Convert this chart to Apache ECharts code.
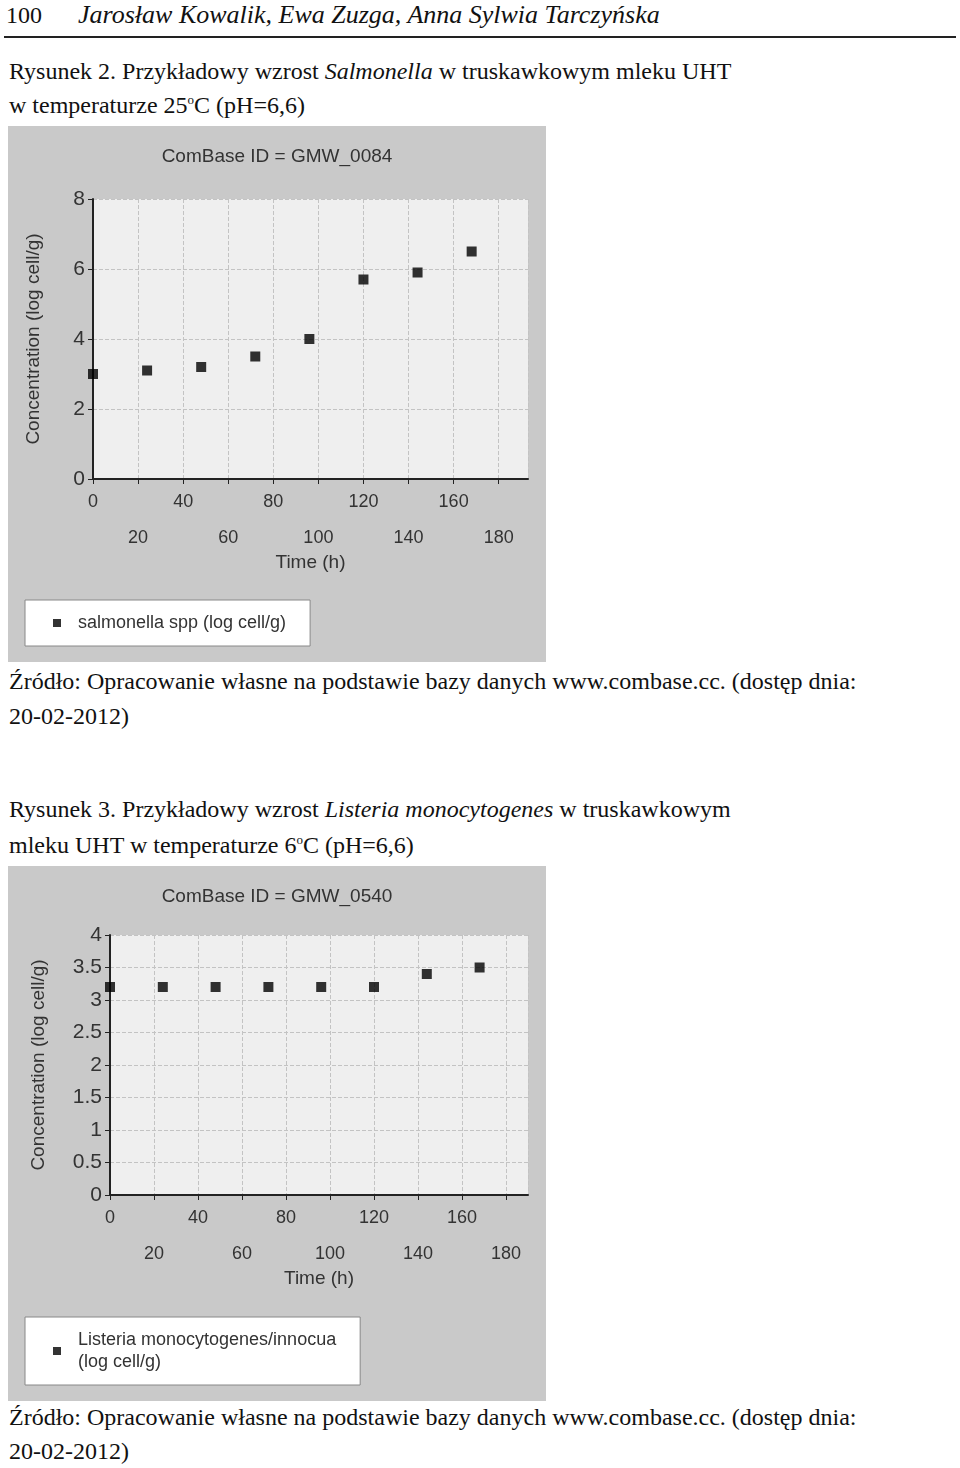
<!DOCTYPE html>
<html><head><meta charset="utf-8">
<script src="https://cdn.jsdelivr.net/npm/echarts@6/dist/echarts.min.js"></script>
<style>
body{margin:0;width:960px;height:1468px;background:#fff;position:relative;font-family:"Liberation Serif",serif;color:#111;}
.t{position:absolute;left:9px;font-size:24px;white-space:nowrap;}
.c{position:absolute;left:8px;width:538px;background:#c9c9c9;}
</style></head><body>
<div class="t" style="top:0;left:6px;font-size:24px">100 <i style="margin-left:30px;font-size:26px">Jarosław Kowalik, Ewa Zuzga, Anna Sylwia Tarczyńska</i></div>
<div style="position:absolute;left:4px;top:36px;width:952px;border-top:2px solid #222"></div>
<div class="t" style="top:58px">Rysunek 2. Przykładowy wzrost <i>Salmonella</i> w truskawkowym mleku UHT</div>
<div class="t" style="top:92px">w temperaturze 25<sup style="font-size:13px">o</sup>C (pH=6,6)</div>
<div id="c1" class="c" style="top:126px;height:536px"></div>
<div class="t" style="top:668px">Źródło: Opracowanie własne na podstawie bazy danych www.combase.cc. (dostęp dnia:</div>
<div class="t" style="top:703px">20-02-2012)</div>
<div class="t" style="top:796px">Rysunek 3. Przykładowy wzrost <i>Listeria monocytogenes</i> w truskawkowym</div>
<div class="t" style="top:832px">mleku UHT w temperaturze 6<sup style="font-size:13px">o</sup>C (pH=6,6)</div>
<div id="c2" class="c" style="top:866px;height:535px"></div>
<div class="t" style="top:1404px">Źródło: Opracowanie własne na podstawie bazy danych www.combase.cc. (dostęp dnia:</div>
<div class="t" style="top:1438px">20-02-2012)</div>
<script>
const timeSalmonella = [0, 24, 48, 72, 96, 120, 144, 168];
const concSalmonella = [3.0, 3.1, 3.2, 3.5, 4.0, 5.7, 5.9, 6.5];
const timeListeria = [0, 24, 48, 72, 96, 120, 144, 168];
const concListeria = [3.2, 3.2, 3.2, 3.2, 3.2, 3.2, 3.4, 3.5];

function makeOption(title, xs, ys, name, yMax, yStep, g, legTop) {
  const font = 'Liberation Sans';
  return {
    backgroundColor: '#c9c9c9',
    title: {text: title, left: 'center', top: 16, textStyle: {fontFamily: font, fontSize: 19, fontWeight: 'normal', color: '#333'}},
    grid: Object.assign({show: true, backgroundColor: '#efefef', borderWidth: 0}, g),
    xAxis: {
      type: 'value', min: 0, max: g.xmax, interval: 20,
      name: 'Time (h)', nameLocation: 'middle', nameGap: 74,
      nameTextStyle: {fontFamily: font, fontSize: 19, color: '#333'},
      axisLine: {lineStyle: {color: '#222', width: 2}},
      axisTick: {length: 5, lineStyle: {color: '#222'}},
      axisLabel: {showMaxLabel: false, fontFamily: font, fontSize: 18, color: '#333', margin: 14,
        formatter: v => (v / 20) % 2 ? '\n\n' + v : v},
      splitLine: {lineStyle: {color: '#c3c3c3', type: 'dashed'}}
    },
    yAxis: {
      type: 'value', min: 0, max: yMax, interval: yStep,
      name: 'Concentration (log cell/g)', nameLocation: 'middle', nameGap: g.nameGap,
      nameTextStyle: {fontFamily: font, fontSize: 19, color: '#333'},
      axisLine: {show: true, lineStyle: {color: '#222', width: 2}},
      axisTick: {show: true, length: 5, lineStyle: {color: '#222'}},
      axisLabel: {fontFamily: font, fontSize: 21, color: '#333', margin: 8},
      splitLine: {lineStyle: {color: '#c3c3c3', type: 'dashed'}}
    },
    legend: {
      left: 17, top: legTop, orient: 'vertical', backgroundColor: '#fff', borderColor: '#888', borderWidth: 1,
      padding: [12, 24, 12, 28], itemWidth: 8, itemHeight: 8, itemGap: 20,
      textStyle: {fontFamily: font, fontSize: 18, color: '#333', padding: [0, 0, 0, 12], lineHeight: 22},
      data: [{name: name, icon: 'rect'}]
    },
    series: [{
      type: 'scatter', name: name, symbol: 'rect', symbolSize: 10,
      itemStyle: {color: '#000'},
      data: xs.map((x, i) => [x, ys[i]])
    }]
  };
}
echarts.init(document.getElementById('c1')).setOption(makeOption('ComBase ID = GMW_0084',
  timeSalmonella, concSalmonella, 'salmonella spp (log cell/g)', 8, 2,
  {left: 85, top: 73, right: 18, bottom: 183, xmax: 193, nameGap: 50}, 474));
echarts.init(document.getElementById('c2')).setOption(makeOption('ComBase ID = GMW_0540',
  timeListeria, concListeria, 'Listeria monocytogenes/innocua\n(log cell/g)', 4, 0.5,
  {left: 102, top: 69, right: 18, bottom: 206, xmax: 190, nameGap: 62}, 451));
</script>
</body></html>
